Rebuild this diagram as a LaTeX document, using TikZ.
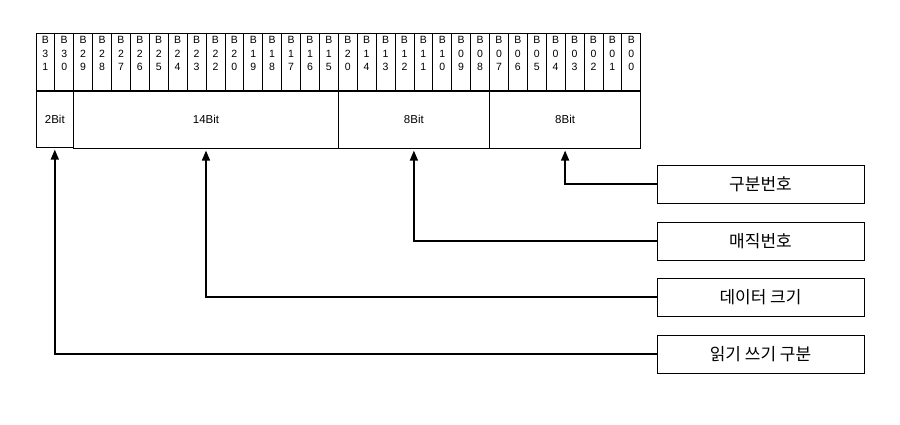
\documentclass[tikz,border=0pt]{standalone}
\usepackage{fontspec}
\setmainfont{Liberation Sans}
\newfontfamily\kofont{Noto Sans CJK KR}
\usetikzlibrary{arrows.meta}

\tikzset{
    bitcell/.style={draw, line width=0.8pt, minimum width=18.9pt, minimum height=57pt,
        inner sep=0pt, anchor=north west, align=center,
        font=\fontsize{10.5}{13.8}\selectfont},
    field/.style={draw, line width=0.8pt, minimum height=57pt, inner sep=0pt,
        anchor=north west, font=\fontsize{11.5}{13}\selectfont},
    descbox/.style={draw, line width=0.8pt, minimum width=207pt, minimum height=38pt,
        inner sep=0pt, font=\kofont\fontsize{17}{19}\selectfont},
    pointer/.style={-{Triangle[length=10pt,width=8pt]}, line width=1.6pt, shorten >=2pt}
}

\begin{document}
\begin{tikzpicture}[x=1pt, y=-1pt]
    \useasboundingbox (0,0) rectangle (900,424);

    % Bit cells
    \foreach \a/\b [count=\i from 0] in {3/1,3/0,2/9,2/8,2/7,2/6,2/5,2/4,2/3,2/2,2/0,1/9,1/8,1/7,1/6,1/5,
                                           2/0,1/4,1/3,1/2,1/1,1/0,0/9,0/8,0/7,0/6,0/5,0/4,0/3,0/2,0/1,0/0}
        \node[bitcell] (b\i) at ({35.5+\i*18.9},33) {B\\\a\\\b\\[3pt]};

    % Fields
    \node[field, minimum width=37.8pt, minimum height=56pt] (f2) at (b0.south west) {2Bit};
    \node[field, minimum width=264.6pt] (f14) at (b2.south west) {14Bit};
    \node[field, minimum width=151.2pt] (f8a) at (b16.south west) {8Bit};
    \node[field, minimum width=151.2pt] (f8b) at (b24.south west) {8Bit};

    % Descriptions
    \node[descbox] (d1) at (760.5,184) {구분번호};
    \node[descbox] (d2) at (760.5,241) {매직번호};
    \node[descbox] (d3) at (760.5,297) {데이터 크기};
    \node[descbox] (d4) at (760.5,354) {읽기 쓰기 구분};

    % Pointers
    \draw[pointer] (d1.west) -| (f8b.south);
    \draw[pointer] (d2.west) -| (f8a.south);
    \draw[pointer] (d3.west) -| (f14.south);
    \draw[pointer] (d4.west) -| (f2.south);
\end{tikzpicture}
\end{document}
